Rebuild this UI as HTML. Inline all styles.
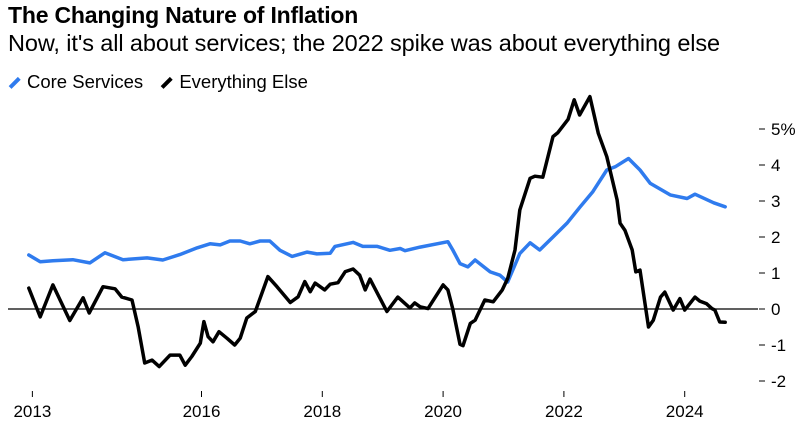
<!DOCTYPE html>
<html><head><meta charset="utf-8"><style>
body{margin:0;background:#fff;font-family:"Liberation Sans",sans-serif;}
#wrap{position:relative;width:802px;height:425px;overflow:hidden;}
.t{position:absolute;left:8px;white-space:nowrap;color:#000;}
</style></head><body>
<div id="wrap">
<div class="t" style="top:2px;font-size:23px;font-weight:bold;letter-spacing:-0.2px">The Changing Nature of Inflation</div>
<div class="t" style="top:30px;font-size:23.5px;letter-spacing:-0.1px">Now, it's all about services; the 2022 spike was about everything else</div>
<div class="t" style="top:71px;font-size:18.5px;">
<span><span style="display:inline-block;width:13px;height:3.5px;background:#2f7bee;transform:rotate(-45deg);vertical-align:middle;margin-right:6px"></span>Core Services</span>
<span style="margin-left:12px"><span style="display:inline-block;width:13px;height:3.5px;background:#000;transform:rotate(-45deg);vertical-align:middle;margin-right:6px"></span>Everything Else</span>
</div>
<svg id="chart" width="802" height="425" style="position:absolute;left:0;top:0"></svg>
</div>
<script>
const blueDates=[2013.14,2013.33,2013.54,2013.87,2014.15,2014.40,2014.70,2015.10,2015.36,2015.64,2015.93,2016.14,2016.31,2016.47,2016.64,2016.80,2016.97,2017.13,2017.30,2017.50,2017.75,2017.91,2018.13,2018.21,2018.51,2018.67,2018.91,2019.12,2019.29,2019.37,2019.62,2020.08,2020.16,2020.28,2020.41,2020.53,2020.78,2020.94,2021.07,2021.27,2021.44,2021.60,2021.82,2022.05,2022.27,2022.48,2022.71,2022.85,2023.07,2023.26,2023.43,2023.76,2024.04,2024.17,2024.48,2024.67];
const blueValues=[1.5,1.31,1.34,1.37,1.28,1.56,1.37,1.42,1.36,1.51,1.7,1.81,1.78,1.89,1.89,1.81,1.89,1.89,1.63,1.46,1.58,1.53,1.55,1.74,1.85,1.74,1.74,1.63,1.68,1.62,1.72,1.87,1.64,1.26,1.17,1.36,1.03,0.94,0.75,1.54,1.84,1.64,2.0,2.38,2.84,3.26,3.86,3.95,4.18,3.86,3.49,3.17,3.07,3.19,2.95,2.84];
const blackDates=[2013.14,2013.33,2013.54,2013.82,2014.04,2014.14,2014.37,2014.57,2014.68,2014.85,2014.95,2015.06,2015.18,2015.30,2015.48,2015.64,2015.73,2015.84,2015.98,2016.04,2016.11,2016.19,2016.29,2016.42,2016.55,2016.64,2016.75,2016.89,2017.10,2017.25,2017.47,2017.60,2017.71,2017.80,2017.88,2018.04,2018.13,2018.26,2018.38,2018.51,2018.62,2018.71,2018.79,2019.07,2019.25,2019.45,2019.53,2019.62,2019.75,2020.00,2020.08,2020.16,2020.28,2020.33,2020.45,2020.53,2020.69,2020.83,2020.98,2021.07,2021.19,2021.27,2021.44,2021.52,2021.65,2021.82,2021.90,2022.07,2022.17,2022.26,2022.43,2022.57,2022.71,2022.88,2022.93,2023.01,2023.13,2023.19,2023.26,2023.40,2023.48,2023.60,2023.67,2023.81,2023.92,2024.00,2024.17,2024.25,2024.36,2024.45,2024.50,2024.58,2024.67];
const blackValues=[0.58,-0.22,0.67,-0.32,0.31,-0.11,0.62,0.56,0.33,0.25,-0.49,-1.5,-1.42,-1.6,-1.28,-1.28,-1.56,-1.32,-0.95,-0.35,-0.77,-0.91,-0.63,-0.81,-1.0,-0.81,-0.25,-0.07,0.9,0.62,0.18,0.34,0.76,0.48,0.72,0.53,0.69,0.73,1.04,1.11,0.94,0.53,0.83,-0.07,0.33,0.03,0.17,0.06,0.01,0.67,0.53,0,-0.98,-1.02,-0.4,-0.31,0.25,0.2,0.53,0.85,1.64,2.75,3.63,3.69,3.66,4.79,4.9,5.27,5.81,5.39,5.9,4.88,4.23,3.03,2.38,2.19,1.64,1.03,1.08,-0.5,-0.31,0.33,0.47,-0.03,0.29,-0.03,0.33,0.22,0.15,0.01,-0.03,-0.36,-0.37];
const yTicks=[5,4,3,2,1,0,-1,-2];
const yTickLabels=["5%","4","3","2","1","0","-1","-2"];
const xTicks=[2013.2,2016,2018,2020,2022,2024];
const xTickLabels=["2013","2016","2018","2020","2022","2024"];

const NS="http://www.w3.org/2000/svg";
const svg=document.getElementById('chart');
const xS=d=>201.5+(d-2016)*60.4;
const yS=v=>309-v*36;
function mk(tag,attrs){const e=document.createElementNS(NS,tag);for(const k in attrs)e.setAttribute(k,attrs[k]);svg.appendChild(e);return e;}

const zl=mk('line',{x1:8,x2:758,y1:yS(0),y2:yS(0),stroke:'#000','stroke-width':1.2});



yTicks.forEach((v,i)=>{
  const tk=mk('line',{x1:759,x2:765,y1:yS(v),y2:yS(v),stroke:'#000','stroke-width':1});
  
  
  const t=mk('text',{x:771,y:yS(v)+6,'font-size':17,'font-family':'Liberation Sans, sans-serif',fill:'#000'});
  t.textContent=yTickLabels[i];
  
  
});
xTicks.forEach((d,i)=>{
  const tk=mk('line',{x1:xS(d),x2:xS(d),y1:391,y2:397,stroke:'#000','stroke-width':1});
  
  
  const t=mk('text',{x:xS(d),y:417,'font-size':17,'text-anchor':'middle','font-family':'Liberation Sans, sans-serif',fill:'#000'});
  t.textContent=xTickLabels[i];
  
  
});
function line(dates,vals,color,name){
  const p=mk('path',{d:dates.map((d,i)=>(i?'L':'M')+xS(d).toFixed(1)+','+yS(vals[i]).toFixed(1)).join(''),fill:'none',stroke:color,'stroke-width':3.5,'stroke-linejoin':'round','stroke-linecap':'round'});
  
  
}
line(blueDates,blueValues,'#2f7bee','core-services-line');
line(blackDates,blackValues,'#000','everything-else-line');
</script>
</body></html>
